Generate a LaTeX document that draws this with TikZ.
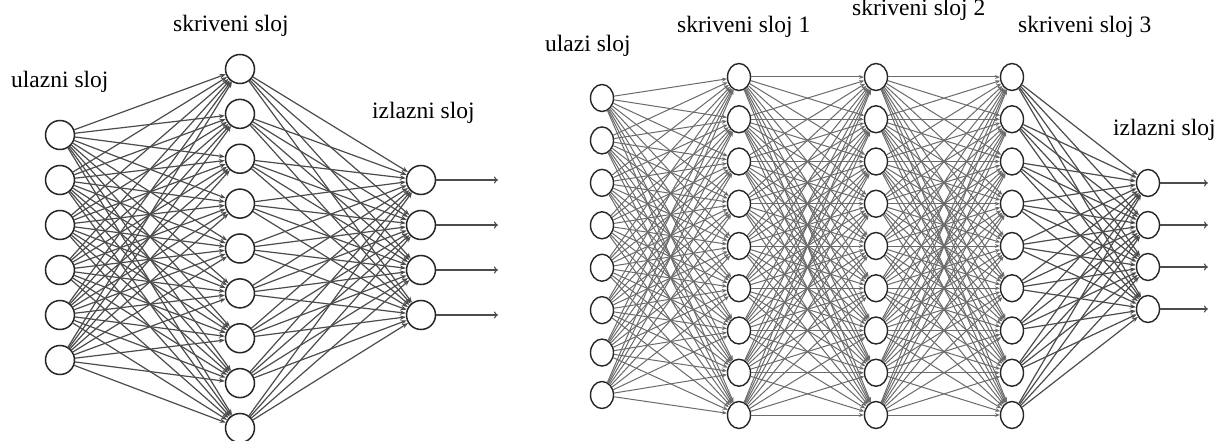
\documentclass[tikz,border=0pt]{standalone}
\usepackage{fontspec}
\setmainfont{Liberation Serif}
\usetikzlibrary{shapes.geometric,arrows.meta}
\begin{document}
\begin{tikzpicture}[x=1pt,y=-1pt,
 neuronL/.style={circle,draw=black!85,line width=1.5pt,fill=white,minimum size=29pt,inner sep=0pt},
 neuronR/.style={ellipse,draw=black!85,line width=1.4pt,fill=white,minimum width=23pt,minimum height=27pt,inner sep=0pt},
 linkL/.style={draw=black!70,line width=1.2pt,-{Stealth[length=6pt,width=4.5pt]}},
 linkR/.style={draw=black!58,line width=1.0pt,-{Stealth[length=5pt,width=4pt]}},
 outarrow/.style={draw=black!70,line width=1.1pt,-{To[length=4pt,width=7pt]}},
 lbl/.style={font=\fontsize{23.5}{28}\selectfont,anchor=base west,inner sep=0pt}]
\useasboundingbox[fill=white] (0,0) rectangle (1227,441);

% ---------- left network ----------
\foreach \i in {1,...,6} \node[neuronL] (Lin\i) at (60,{135+45*(\i-1)}) {};
\foreach \j in {1,...,9} \node[neuronL] (Lh\j) at (240,{69+44.875*(\j-1)}) {};
\foreach \k in {1,...,4} {
  \node[neuronL] (Lout\k) at (421,{180+45*(\k-1)}) {};
  \coordinate (Lend\k) at (498,{180+45*(\k-1)});
}
\foreach \i in {1,...,6} \foreach \j in {1,...,9} \draw[linkL] (Lin\i) -- (Lh\j);
\foreach \j in {1,...,9} \foreach \k in {1,...,4} \draw[linkL] (Lh\j) -- (Lout\k);
\foreach \k in {1,...,4} \draw[outarrow] (Lout\k) -- (Lend\k);

\node[lbl] (tLin) at (11,88) {ulazni sloj};
\node[lbl] (tLh) at (173,32) {skriveni sloj};
\node[lbl] (tLout) at (372,119) {izlazni sloj};

% ---------- right network ----------
\foreach \i in {1,...,8} \node[neuronR] (Rin\i) at (602,{98+42.43*(\i-1)}) {};
\foreach \j in {1,...,9} {
  \node[neuronR] (Ra\j) at (739,{77+42.25*(\j-1)}) {};
  \node[neuronR] (Rb\j) at (876,{77+42.25*(\j-1)}) {};
  \node[neuronR] (Rc\j) at (1012,{77+42.25*(\j-1)}) {};
}
\foreach \k in {1,...,4} {
  \node[neuronR] (Rout\k) at (1148,{183+42*(\k-1)}) {};
  \coordinate (Rend\k) at (1208,{183+42*(\k-1)});
}
\foreach \i in {1,...,8} \foreach \j in {1,...,9} \draw[linkR] (Rin\i) -- (Ra\j);
\foreach \i in {1,...,9} \foreach \j in {1,...,9} {
  \draw[linkR] (Ra\i) -- (Rb\j);
  \draw[linkR] (Rb\i) -- (Rc\j);
}
\foreach \j in {1,...,9} \foreach \k in {1,...,4} \draw[linkL] (Rc\j) -- (Rout\k);
\foreach \k in {1,...,4} \draw[outarrow] (Rout\k) -- (Rend\k);

\node[lbl] (tRin) at (545,52) {ulazi sloj};
\node[lbl] (tRa) at (677,33) {skriveni sloj 1};
\node[lbl] (tRb) at (852,16) {skriveni sloj 2};
\node[lbl] (tRc) at (1018,33) {skriveni sloj 3};
\node[lbl] (tRout) at (1113,136) {izlazni sloj};
\end{tikzpicture}
\end{document}
